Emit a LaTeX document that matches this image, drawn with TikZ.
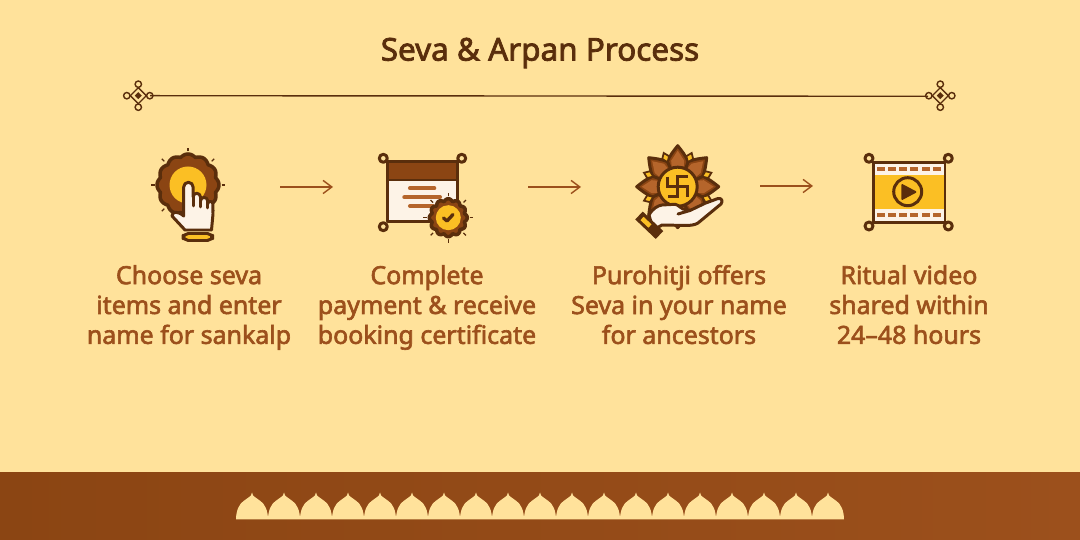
\documentclass[tikz,border=0pt]{standalone}
\usepackage{fontspec}
\setmainfont{Noto Sans}
\newfontfamily\sevasemi{Noto Sans}[FakeBold=2.4]
\usetikzlibrary{arrows.meta,positioning}
\definecolor{pagebg}{HTML}{FFE29B}
\definecolor{inkdark}{HTML}{5A2E0C}
\definecolor{sevabrown}{HTML}{8B4513}
\definecolor{sevarust}{HTML}{9C501C}
\definecolor{sevamid}{HTML}{B5652B}
\definecolor{sevagold}{HTML}{FBBF24}
\definecolor{sevacream}{HTML}{FDF3E7}
\tikzset{
	outline/.style={draw=inkdark,line width=1.7pt,line join=round,line cap=round},
	titletext/.style={font=\sevasemi\fontsize{17.9}{20}\selectfont,text=inkdark},
	steptext/.style={font=\sevasemi\fontsize{14.2}{17}\selectfont,text=sevarust,align=center,
		execute at begin node=\strut,execute at end node=\strut},
	iconspot/.style={inner sep=0pt,minimum size=0pt},
	flowline/.style={->,every edge/.style={draw=sevarust,line width=0.8pt}},
	textrule/.style={draw=sevamid,line width=2.3pt,line cap=round}
}
% scalloped badge: centre, outer radius, inner disc radius
\newcommand{\sevabadge}[4]{
	\begin{scope}[shift={(#1,#2)}]
		\foreach \a in {0,45,...,315}
			\draw[draw=inkdark,line width=0.7pt] (\a:#3+2.5) -- (\a:#3+6);
		\filldraw[outline,line width=2pt,fill=sevabrown] plot[domain=0:360,samples=121,smooth]
			(\x:{#3-2.5+2.5*abs(cos(6*\x))}) -- cycle;
		\fill[fill=sevagold] (0,0) circle (#4);
	\end{scope}
}
% small knot at the end of the rule
\newcommand{\sevaknot}[2]{
	\begin{scope}[shift={(#1,#2)},draw=inkdark,line width=0.8pt]
		\foreach \a in {0,90,180,270}
			\draw[fill=pagebg] (\a:11.5) circle (3.2);
		\draw[fill=pagebg] (-8,0) -- (0,-8) -- (8,0) -- (0,8) -- cycle;
		\fill[inkdark] (-3.5,0) -- (0,-3.5) -- (3.5,0) -- (0,3.5) -- cycle;
	\end{scope}
}
\begin{document}
\begin{tikzpicture}
	[x=0.02cm,y=-0.02cm,>={Straight Barb[length=5pt,width=7.5pt]},node distance=2.44cm,on grid]
\useasboundingbox (0,0) rectangle (1080,540);
\fill[pagebg] (0,0) rectangle (1080,540);

% title and rule
\node[titletext](title) at (540,53){Seva \& Arpan Process};
\sevaknot{138.3}{95.7}
\sevaknot{940.3}{95.7}
\coordinate (rule_l) at (150,95.7);
\coordinate (rule_r) at (928,96.3);
\draw[draw=inkdark,line width=0.8pt] (rule_l) -- (rule_r);

% icon 1
\sevabadge{188}{185}{31}{18.5}
\filldraw[outline,fill=sevacream] (183.7,187) arc (180:360:4.7) -- (193.1,197)
	arc (180:360:3.7) -- (200.5,201) arc (180:360:3.6) -- (207.7,204) arc (180:360:2.6)
	-- (213,214) -- (211.5,230) -- (185,230) -- (172,216)
	.. controls (172,211) and (178,211) .. (183.7,216) -- cycle;
\draw[outline] (193.1,197) -- (193.1,206) (200.5,201) -- (200.5,207) (207.7,204) -- (207.7,208);
\filldraw[outline,fill=sevagold,rounded corners=3pt] (183,233.5) rectangle (212.7,240.5);

% icon 2
\foreach \p in {(383.3,158.3),(461.7,158.3),(383.3,226.7)}
	\draw[outline,fill=pagebg] \p circle (4);
\fill[sevacream] (387.7,161.7) rectangle (457.7,221.7);
\fill[sevabrown] (387.7,161.7) rectangle (457.7,180);
\draw[textrule] (410,188.3) -- (434.3,188.3);
\draw[textrule] (404.3,197.3) -- (440,197.3);
\draw[textrule] (410,206) -- (433,206);
\draw[outline] (387.7,161.7) rectangle (457.7,221.7);
\draw[outline] (387.7,180) -- (457.7,180);
\sevabadge{448.3}{217.7}{19}{12.5}
\draw[draw=inkdark,line width=1.9pt,line cap=round,line join=round] (443.5,218) -- (447,221) -- (453,214.5);

% icon 3
\begin{scope}[shift={(677.7,186.7)}]
	\foreach \a in {0,45,...,315}
		\filldraw[outline,fill=sevabrown,rotate=\a] (10,-5) -- (25,-10.4)
			.. controls (31,-8) and (36,-4) .. (41,0)
			.. controls (36,4) and (31,8) .. (25,10.4) -- (10,5) -- cycle;
	\foreach \a in {0,45,...,315}
		\fill[sevamid,rotate=\a] (20,-6) -- (26,-6.5) -- (36,0) -- (26,6.5) -- (20,6) -- cycle;
	\foreach \a in {22.5,67.5,...,337.5}
		\filldraw[draw=inkdark,line width=1pt,fill=sevagold,rotate=\a] (26.5,0) -- (31.5,-3.7) -- (36.5,0) -- (31.5,3.7) -- cycle;
	\filldraw[outline,fill=sevagold] (0,0) circle (19.5);
	\draw[draw=inkdark,line width=1.7pt,line join=miter]
		(-10,-10) -- (-10,0) -- (10,0) -- (10,10)
		(10,-10) -- (0,-10) -- (0,10) -- (-10,10);
\end{scope}
\filldraw[outline,fill=sevacream] (649,215) .. controls (653,208) and (658,205.7) .. (662,205)
	-- (675,204.3) .. controls (679,205) and (680,208) .. (683,209)
	-- (690,210.5) -- (705,203.3) -- (718,198.5) .. controls (722,198) and (723,201) .. (721,204)
	-- (698,223) .. controls (695,225) and (690,225.5) .. (686,225.5)
	-- (662,225) -- (653.3,230) -- cycle;
\draw[outline] (678,214) -- (690,210.5);
\draw[draw=inkdark,line width=6.2pt] (639,215.5) -- (659.5,235);
\draw[draw=sevagold,line width=2.6pt] (642,218.5) -- (650,226);

% icon 4
\foreach \p in {(869,158.3),(948.3,158.3),(869,226),(948.3,226)}
	\draw[outline,fill=pagebg] \p circle (4);
\fill[sevacream] (873.3,162.7) rectangle (945,222.7);
\fill[sevagold] (873.3,175) rectangle (945,209.3);
\foreach \n in {0,...,5}{
	\fill[sevamid] (876.7+11.2*\n,167) rectangle ++(8,4);
	\fill[sevamid] (876.7+11.2*\n,213) rectangle ++(8,4);
}
\draw[outline] (873.3,162.7) rectangle (945,222.7);
\draw[outline] (907.7,191.7) circle (14);
\filldraw[draw=inkdark,fill=inkdark,line width=1pt,line join=round] (902.3,185) -- (902.3,199) -- (915.5,192) -- cycle;

% labels under the icons
\node[iconspot](ico_1) at (189,187){};
\node[iconspot](ico_2) at (427,187){};
\node[iconspot](ico_3) at (679,187){};
\node[iconspot](ico_4) at (909,187){};
\node[steptext](lab_1)[below = of ico_1]{Choose seva\\items and enter\\name for sankalp};
\node[steptext](lab_2)[below = of ico_2]{Complete\\payment \& receive\\booking certificate};
\node[steptext](lab_3)[below = of ico_3]{Purohitji offers\\Seva in your name\\for ancestors};
\node[steptext](lab_4)[below = of ico_4]{Ritual video\\shared within\\24–48 hours};

% arrows
\coordinate (arr_1a) at (280,187);
\coordinate (arr_1b) at (333,187);
\coordinate (arr_2a) at (528,187);
\coordinate (arr_2b) at (581,187);
\coordinate (arr_3a) at (760,186);
\coordinate (arr_3b) at (813,186);
\path[flowline]
	(arr_1a) edge (arr_1b)
	(arr_2a) edge (arr_2b)
	(arr_3a) edge (arr_3b);

% bottom band
\shade[left color=sevabrown,right color=sevarust] (0,472.5) rectangle (1080,540);
\foreach \n in {0,...,18}
	\fill[pagebg,shift={(236+32*\n,0)}] (0,519.5) .. controls (0,511) and (3,503.5) .. (8.5,500.3)
		.. controls (10.5,499.5) and (11,498) .. (12.5,497.5)
		.. controls (14.5,497) and (15.5,495) .. (16,492.5)
		.. controls (16.5,495) and (17.5,497) .. (19.5,497.5)
		.. controls (21,498) and (21.5,499.5) .. (23.5,500.3)
		.. controls (29,503.5) and (32,511) .. (32,519.5) -- cycle;
\end{tikzpicture}
\end{document}
